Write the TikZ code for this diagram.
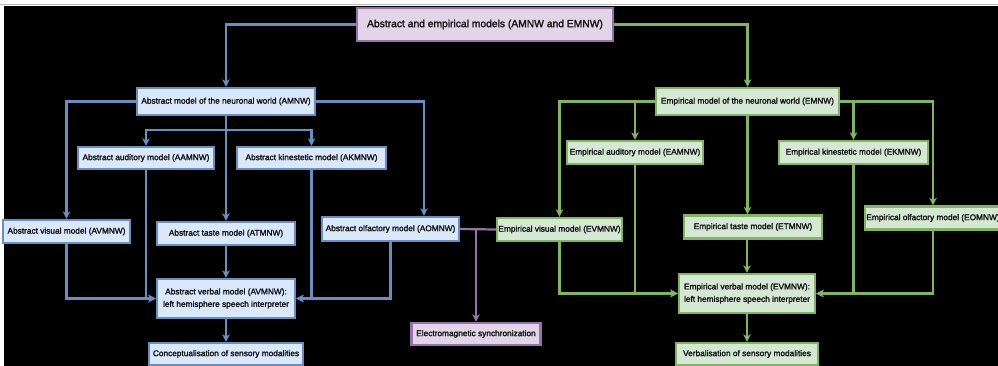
\documentclass[tikz,border=0pt]{standalone}
\usepackage{fontspec}
\setmainfont{Liberation Sans}
\newfontfamily\boxfont{Liberation Sans}[FakeBold=2]
\usetikzlibrary{arrows.meta}

\definecolor{blueline}{HTML}{6C8EBF}
\definecolor{bluefill}{HTML}{DAE8FC}
\definecolor{greenline}{HTML}{82B366}
\definecolor{greenfill}{HTML}{D5E8D4}
\definecolor{purpleline}{HTML}{9673A6}
\definecolor{purplefill}{HTML}{E1D5E7}
\definecolor{boxtext}{HTML}{141414}

\tikzset{
  box/.style={draw, line width=2.2pt, inner sep=0pt, align=center,
    text=boxtext, font=\boxfont\fontsize{8.3}{12.5}\selectfont},
  bbox/.style={box, draw=blueline, fill=bluefill},
  gbox/.style={box, draw=greenline, fill=greenfill},
  pbox/.style={box, draw=purpleline, fill=purplefill},
  link/.style={line width=2.2pt, -{Stealth[length=7.5pt,width=7.5pt,inset=2pt]}},
  plain/.style={line width=2.2pt},
  bl/.style={link, draw=blueline},
  gl/.style={link, draw=greenline},
  pl/.style={link, draw=purpleline},
}

\begin{document}
\begin{tikzpicture}[x=1pt, y=-1pt]
\useasboundingbox (0,0) rectangle (998,366);
% page strip and dark canvas
\fill[white] (0,0) rectangle (998,366);
\fill[black] (4,6.5) rectangle (998,366);
\draw[line width=1.6pt, gray!55] (0,4.6) -- (998,4.6);

% root
\node[pbox, minimum width=256pt, minimum height=33pt,
  font=\boxfont\fontsize{10.3}{12}\selectfont] (top) at (485,24.5)
  {Abstract and empirical models (AMNW and EMNW)};

% abstract branch
\node[bbox, minimum width=178pt, minimum height=27pt] (AMNW) at (226,101.5)
  {Abstract model of the neuronal world (AMNW)};
\node[bbox, minimum width=136pt, minimum height=22pt] (AAMNW) at (146,158)
  {Abstract auditory model (AAMNW)};
\node[bbox, minimum width=149pt, minimum height=22pt] (AKMNW) at (311.5,158)
  {Abstract kinestetic model (AKMNW)};
\node[bbox, minimum width=127pt, minimum height=23pt] (AVMNW) at (66.5,231.5)
  {Abstract visual model (AVMNW)};
\node[bbox, minimum width=138pt, minimum height=23pt] (ATMNW) at (226,233.5)
  {Abstract taste model (ATMNW)};
\node[bbox, minimum width=137pt, minimum height=24pt] (AOMNW) at (390.5,229)
  {Abstract olfactory model (AOMNW)};
\node[bbox, minimum width=138pt, minimum height=39pt] (AVerbal) at (226,298.5)
  {Abstract verbal model (AVMNW):\\left hemisphere speech interpreter};
\node[bbox, minimum width=154pt, minimum height=22pt] (AConc) at (226,354)
  {Conceptualisation of sensory modalities};

% empirical branch
\node[gbox, minimum width=183pt, minimum height=27pt] (EMNW) at (747.5,101.5)
  {Empirical model of the neuronal world (EMNW)};
\node[gbox, minimum width=136pt, minimum height=23pt] (EAMNW) at (635,152.5)
  {Empirical auditory model (EAMNW)};
\node[gbox, minimum width=149pt, minimum height=23pt] (EKMNW) at (853.5,152.5)
  {Empirical kinestetic model (EKMNW)};
\node[gbox, minimum width=125pt, minimum height=23pt] (EVMNW) at (559.5,229.5)
  {Empirical visual model (EVMNW)};
\node[gbox, minimum width=138pt, minimum height=23pt] (ETMNW) at (753,227)
  {Empirical taste model (ETMNW)};
\node[gbox, minimum width=136pt, minimum height=23pt] (EOMNW) at (933,218)
  {Empirical olfactory model (EOMNW)};
\node[gbox, minimum width=136pt, minimum height=39pt] (EVerbal) at (747,293.5)
  {Empirical verbal model (EVMNW):\\left hemisphere speech interpreter};
\node[gbox, minimum width=142pt, minimum height=22pt] (EVerb) at (747,354)
  {Verbalisation of sensory modalities};

% synchronization
\node[pbox, minimum width=129pt, minimum height=22pt] (EMS) at (476,334)
  {Electromagnetic synchronization};

% junction points
\coordinate (abr) at (226,130);
\coordinate (aoin) at ([xshift=33.5pt]AOMNW.north);

% root connectors
\draw[bl] (top.west) -| (AMNW.north);
\draw[gl] (top.east) -| (EMNW.north);

% abstract connectors
\draw[bl] (AMNW.west) -| (AVMNW.north);
\draw[bl] (AMNW.east) -| (aoin);
\draw[bl] (AMNW.south) -- (ATMNW.north);
\draw[bl] (abr) -| (AAMNW.north);
\draw[bl] (abr) -| (AKMNW.north);
\draw[bl] (AVMNW.south) |- (AVerbal.west);
\draw[bl] (AAMNW.south) |- (AVerbal.west);
\draw[bl] (AKMNW.south) |- (AVerbal.east);
\draw[bl] (AOMNW.south) |- (AVerbal.east);
\draw[bl] (ATMNW.south) -- (AVerbal.north);
\draw[bl] (AVerbal.south) -- (AConc.north);

% empirical connectors
\draw[gl] (EMNW.west) -| (EVMNW.north);
\draw[gl] (EMNW.west) -| (EAMNW.north);
\draw[gl] (EMNW.east) -| (EKMNW.north);
\draw[gl] (EMNW.east) -| (EOMNW.north);
\draw[gl] (EMNW.south) -- (EMNW.south |- ETMNW.north);
\draw[gl] (EVMNW.south) |- (EVerbal.west);
\draw[gl] (EAMNW.south) |- (EVerbal.west);
\draw[gl] (EKMNW.south) |- (EVerbal.east);
\draw[gl] (EOMNW.south) |- (EVerbal.east);
\draw[gl] (EVerbal.north |- ETMNW.south) -- (EVerbal.north);
\draw[gl] (EVerbal.south) -- (EVerb.north);

% link between the olfactory and visual models, and the synchronization
\draw[plain, purpleline] (AOMNW.east) -- (EVMNW.west);
\draw[pl] (AOMNW.east -| EMS.north) -- (EMS.north);
\end{tikzpicture}
\end{document}
